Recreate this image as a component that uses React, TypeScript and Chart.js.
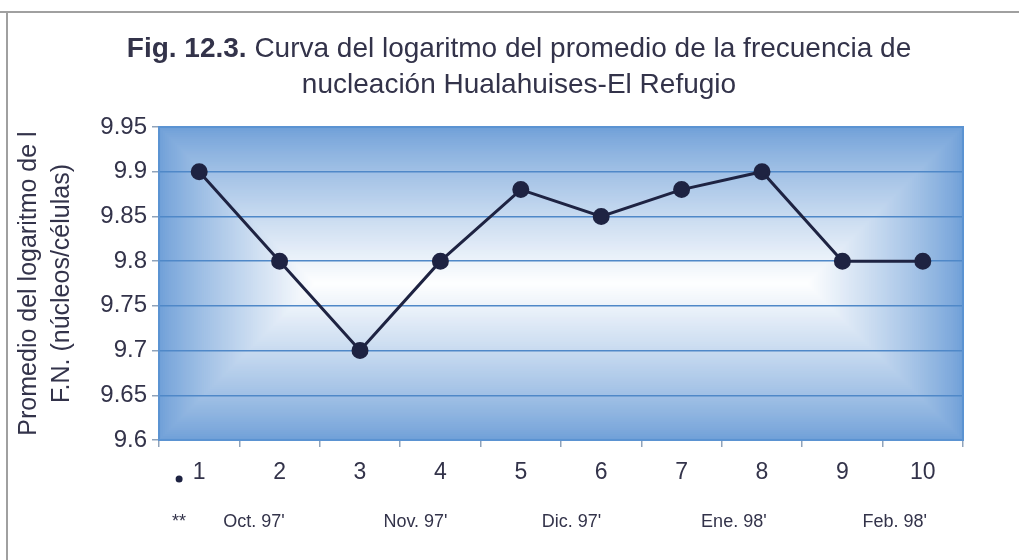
import React, { useEffect, useRef } from "react";
import { Chart, registerables } from "chart.js";

Chart.register(...registerables);

const TITLE_BOLD = "Fig. 12.3.";
const TITLE_LINE1 = " Curva del logaritmo del promedio de la frecuencia de";
const TITLE_LINE2 = "nucleación Hualahuises-El Refugio";

const Y_TITLE = ["Promedio del logaritmo de l", "F.N. (núcleos/células)"];

const X_LABELS = ["1", "2", "3", "4", "5", "6", "7", "8", "9", "10"];
const VALUES = [9.9, 9.8, 9.7, 9.8, 9.88, 9.85, 9.88, 9.9, 9.8, 9.8];

const Y_TICKS = [9.6, 9.65, 9.7, 9.75, 9.8, 9.85, 9.9, 9.95];

const MONTH_LABELS = ["**", "Oct. 97'", "Nov. 97'", "Dic. 97'", "Ene. 98'", "Feb. 98'"];
const MONTH_AT = [-0.25, 0.68, 2.69, 4.63, 6.65, 8.65];
const BULLET_AT = -0.25;

const FONT = "'Liberation Sans', Arial, sans-serif";
const TEXT = "#33334a";
const NAVY = "#1e2342";

const plotBg = {
  id: "plotBg",
  beforeDraw(chart: any) {
    const { ctx, chartArea } = chart;
    const { left, right, top, bottom } = chartArea;
    const w = right - left;
    const h = bottom - top;
    const maxD = Math.min(w, h) / 2;
    const edge = [112, 160, 216];
    ctx.save();
    ctx.strokeStyle = "#a0a0a0";
    ctx.lineWidth = 2;
    ctx.beginPath();
    ctx.moveTo(0, 12);
    ctx.lineTo(chart.width, 12);
    ctx.moveTo(7, 12);
    ctx.lineTo(7, chart.height);
    ctx.stroke();
    const steps = 80;
    for (let i = 0; i <= steps; i++) {
      const t = i / steps;
      const d = t * maxD;
      const k = Math.pow(t, 0.85);
      const c = edge.map((e) => Math.round(e + (255 - e) * k));
      ctx.fillStyle = `rgb(${c[0]},${c[1]},${c[2]})`;
      ctx.fillRect(left + d, top + d, w - 2 * d, h - 2 * d);
    }
    ctx.restore();
  },
  afterDraw(chart: any) {
    const { ctx, chartArea } = chart;
    const { left, right, top, bottom } = chartArea;
    ctx.save();
    ctx.strokeStyle = "#5b93d2";
    ctx.lineWidth = 2;
    ctx.strokeRect(left, top, right - left, bottom - top);
    const cx = 519;
    const size = 28;
    ctx.fillStyle = TEXT;
    ctx.textBaseline = "alphabetic";
    ctx.font = `bold ${size}px ${FONT}`;
    const wb = ctx.measureText(TITLE_BOLD).width;
    ctx.font = `${size}px ${FONT}`;
    const wr = ctx.measureText(TITLE_LINE1).width;
    const x0 = cx - (wb + wr) / 2;
    ctx.font = `bold ${size}px ${FONT}`;
    ctx.textAlign = "left";
    ctx.fillText(TITLE_BOLD, x0, 57);
    ctx.font = `${size}px ${FONT}`;
    ctx.fillText(TITLE_LINE1, x0 + wb, 57);
    ctx.textAlign = "center";
    ctx.fillText(TITLE_LINE2, cx, 93);
    const xs = chart.scales.x;
    ctx.fillStyle = NAVY;
    ctx.beginPath();
    ctx.arc(xs.getPixelForValue(BULLET_AT), 479, 3.5, 0, Math.PI * 2);
    ctx.fill();
    ctx.restore();
  },
};

export default function App() {
  const ref = useRef<HTMLCanvasElement | null>(null);
  useEffect(() => {
    if (!ref.current) return;
    const chart = new Chart(ref.current, {
      type: "line",
      data: {
        labels: X_LABELS,
        datasets: [
          {
            data: VALUES,
            borderColor: NAVY,
            backgroundColor: NAVY,
            borderWidth: 3,
            pointRadius: 7,
            pointBackgroundColor: NAVY,
            pointBorderColor: NAVY,
            tension: 0,
            xAxisID: "x",
            yAxisID: "y",
          },
        ],
      },
      options: {
        animation: false,
        responsive: true,
        maintainAspectRatio: false,
        layout: { padding: { left: 0, right: 56, top: 127, bottom: 20 } },
        plugins: {
          legend: { display: false },
          tooltip: { enabled: false },
          title: { display: false },
        },
        scales: {
          x: {
            type: "category",
            position: "bottom",
            offset: true,
            weight: 0,
            grid: {
              offset: true,
              drawOnChartArea: false,
              drawTicks: true,
              tickLength: 7,
              tickColor: "#8fa3bb",
              lineWidth: 1.5,
            },
            border: { display: false },
            ticks: {
              color: TEXT,
              font: { family: FONT, size: 23 },
              padding: 12,
              maxRotation: 0,
              autoSkip: false,
            },
            afterFit: (s: any) => {
              s.height = 55;
            },
          },
          x2: {
            type: "linear",
            position: "bottom",
            weight: 1,
            min: -0.5,
            max: 9.5,
            grid: { display: false, drawTicks: false },
            border: { display: false },
            afterBuildTicks: (s: any) => {
              s.ticks = MONTH_AT.map((v) => ({ value: v }));
            },
            ticks: {
              color: TEXT,
              font: { family: FONT, size: 18 },
              padding: 16,
              maxRotation: 0,
              autoSkip: false,
              callback: (_v: any, i: number) => MONTH_LABELS[i],
            },
            afterFit: (s: any) => {
              s.height = 45;
            },
          },
          y: {
            type: "linear",
            min: 9.6,
            max: 9.95,
            afterBuildTicks: (s: any) => {
              s.ticks = Y_TICKS.map((v) => ({ value: v }));
            },
            grid: {
              color: "#4f88c8",
              lineWidth: 1.5,
              drawTicks: true,
              tickLength: 7,
              tickColor: "#8fa3bb",
            },
            border: { display: false },
            ticks: {
              color: TEXT,
              font: { family: FONT, size: 24 },
              padding: 5,
              callback: (v: any) => String(Number(Number(v).toFixed(2))),
            },
            title: {
              display: true,
              text: Y_TITLE,
              color: TEXT,
              font: { family: FONT, size: 25, lineHeight: 1.3 },
              padding: { top: 13, bottom: 0 },
            },
            afterFit: (s: any) => {
              s.width = 159;
            },
          },
        },
      },
      plugins: [plotBg],
    });
    return () => chart.destroy();
  }, []);
  return (
    <div
      style={{
        position: "fixed",
        left: 0,
        top: 0,
        width: 1019,
        height: 560,
        background: "#ffffff",
      }}
    >
      <canvas ref={ref} />
    </div>
  );
}
